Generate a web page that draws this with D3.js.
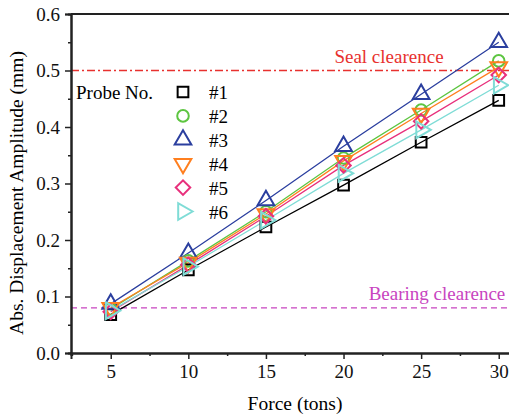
<!DOCTYPE html>
<html>
<head>
<meta charset="utf-8">
<script src="https://cdn.jsdelivr.net/npm/d3@7"></script>
<style>
  body { margin: 0; background: #fff; }
  text { font-family: "Liberation Serif", "Times New Roman", serif; }
</style>
</head>
<body>
<div id="chart"><svg width="509" height="417"></svg></div>
<script>
// force values (tons)
var forces = [5, 10, 15, 20, 25, 30];
// displacement amplitude per probe (mm)
var probe1 = [0.068, 0.147, 0.223, 0.297, 0.373, 0.447];
var probe2 = [0.078, 0.163, 0.250, 0.345, 0.430, 0.517];
var probe3 = [0.087, 0.177, 0.270, 0.366, 0.458, 0.550];
var probe4 = [0.080, 0.160, 0.246, 0.340, 0.424, 0.506];
var probe5 = [0.073, 0.156, 0.242, 0.332, 0.410, 0.492];
var probe6 = [0.075, 0.153, 0.235, 0.318, 0.395, 0.474];
var probeNames = ["#1", "#2", "#3", "#4", "#5", "#6"];
var xTicks = [5, 10, 15, 20, 25, 30];
var yTicks = [0.0, 0.1, 0.2, 0.3, 0.4, 0.5, 0.6];
var sealClearence = 0.5;
var bearingClearence = 0.08;

var series = [
  {name: probeNames[0], values: probe1, color: "#000000", shape: "square", rot: 0},
  {name: probeNames[1], values: probe2, color: "#5dc541", shape: "circle", rot: 0},
  {name: probeNames[2], values: probe3, color: "#2b3f9f", shape: "triangle", rot: 0},
  {name: probeNames[3], values: probe4, color: "#ff7f1f", shape: "triangle", rot: 180},
  {name: probeNames[4], values: probe5, color: "#e8307c", shape: "diamond", rot: 45},
  {name: probeNames[5], values: probe6, color: "#7fdcd6", shape: "triangle", rot: 90}
];

var svg = d3.select("#chart").select("svg");
var plotLeft = 71, plotTop = 14, plotBottom = 353;
var xScale = d3.scaleLinear().domain([2.44, 32.5]).range([plotLeft, plotLeft + 30.06 * 15.52]);
var yScale = d3.scaleLinear().domain([0, 0.6]).range([plotBottom, plotTop]);
var plotRight = xScale.range()[1];

svg.append("defs").append("clipPath").attr("id", "clip")
  .append("rect").attr("x", plotLeft).attr("y", plotTop)
  .attr("width", plotRight - plotLeft).attr("height", plotBottom - plotTop);

// clearence lines
svg.append("line")
  .attr("x1", plotLeft).attr("x2", plotRight)
  .attr("y1", yScale(sealClearence)).attr("y2", yScale(sealClearence))
  .attr("stroke", "#e8312f").attr("stroke-width", 1.3)
  .attr("stroke-dasharray", "8,3,2,3");
svg.append("line")
  .attr("x1", plotLeft).attr("x2", plotRight)
  .attr("y1", yScale(bearingClearence)).attr("y2", yScale(bearingClearence))
  .attr("stroke", "#c844c0").attr("stroke-width", 1.3)
  .attr("stroke-dasharray", "6,4");
svg.append("text").attr("x", 389).attr("y", yScale(sealClearence) - 8)
  .attr("text-anchor", "middle").attr("font-size", 19).attr("fill", "#e8312f")
  .text("Seal clearence");
svg.append("text").attr("x", 437).attr("y", yScale(bearingClearence) - 8)
  .attr("text-anchor", "middle").attr("font-size", 19).attr("fill", "#c844c0")
  .text("Bearing clearence");

// lines
var linemaker = d3.line()
  .x(function(d){return xScale(d.x)})
  .y(function(d){return yScale(d.y)});
var plot = svg.append("g").attr("clip-path", "url(#clip)");

function symbolPath(s){
  var type = s.shape == "square" ? d3.symbolSquare
           : s.shape == "circle" ? d3.symbolCircle
           : s.shape == "diamond" ? d3.symbolSquare
           : d3.symbolTriangle;
  var size = s.shape == "square" ? 115 : s.shape == "circle" ? 105
           : s.shape == "diamond" ? 105 : 120;
  return d3.symbol().type(type).size(size)();
}

series.forEach(function(s){
  var pts = forces.map(function(f, i){return {x: f, y: s.values[i]}});
  plot.append("path")
    .attr("d", linemaker(pts))
    .attr("fill", "none")
    .attr("stroke", s.color)
    .attr("stroke-width", 1.3);
});
series.forEach(function(s){
  var pts = forces.map(function(f, i){return {x: f, y: s.values[i]}});
  plot.selectAll(null).data(pts).enter().append("path")
    .attr("d", symbolPath(s))
    .attr("transform", function(d){
      return "translate(" + xScale(d.x) + "," + yScale(d.y) + ") rotate(" + s.rot + ")";
    })
    .attr("fill", "none")
    .attr("stroke", s.color)
    .attr("stroke-width", 2);
});

// legend
svg.append("text").attr("x", 76).attr("y", 99).attr("font-size", 19).text("Probe No.");
series.forEach(function(s, i){
  var ly = 92 + i * 23.9;
  svg.append("path")
    .attr("d", symbolPath(s))
    .attr("transform", "translate(183," + ly + ") rotate(" + s.rot + ")")
    .attr("fill", "none").attr("stroke", s.color).attr("stroke-width", 2);
  svg.append("text").attr("x", 209).attr("y", ly + 7)
    .attr("font-size", 19).text(s.name);
});

// axes
var xAxis = d3.axisBottom(xScale).tickValues(xTicks).tickSize(6).tickPadding(6)
  .tickFormat(d3.format("d"));
var xMinor = d3.axisBottom(xScale).tickValues(d3.range(2.5, 33, 2.5).filter(function(v){return v % 5 != 0}))
  .tickSize(3).tickFormat("");
var yAxis = d3.axisLeft(yScale).tickValues(yTicks).tickSize(6).tickPadding(5)
  .tickFormat(d3.format(".1f"));
var yMinor = d3.axisLeft(yScale).tickValues(d3.range(0.05, 0.6, 0.1)).tickSize(3).tickFormat("");

function styleAxis(g){
  g.select(".domain").attr("stroke", "#222").attr("stroke-width", 2);
  g.selectAll(".tick line").attr("stroke", "#222").attr("stroke-width", 1.5);
  g.selectAll(".tick text").attr("font-size", 19).attr("fill", "#111")
    .attr("font-family", "Liberation Serif, serif");
}
svg.append("g").attr("transform", "translate(0," + plotBottom + ")").call(xMinor).call(styleAxis);
svg.append("g").attr("transform", "translate(0," + plotBottom + ")").call(xAxis).call(styleAxis);
svg.append("g").attr("transform", "translate(" + plotLeft + ",0)").call(yMinor).call(styleAxis);
svg.append("g").attr("transform", "translate(" + plotLeft + ",0)").call(yAxis).call(styleAxis);
// top border
svg.append("line").attr("x1", plotLeft).attr("x2", plotRight).attr("y1", plotTop).attr("y2", plotTop)
  .attr("stroke", "#222").attr("stroke-width", 2);

// axis titles
svg.append("text").attr("x", (plotLeft + 509) / 2 + 5).attr("y", 410)
  .attr("text-anchor", "middle").attr("font-size", 19.5).text("Force (tons)");
svg.append("text")
  .attr("transform", "translate(23,193) rotate(-90)")
  .attr("text-anchor", "middle").attr("font-size", 19.5)
  .text("Abs. Displacement Amplitude (mm)");
</script>
</body>
</html>
